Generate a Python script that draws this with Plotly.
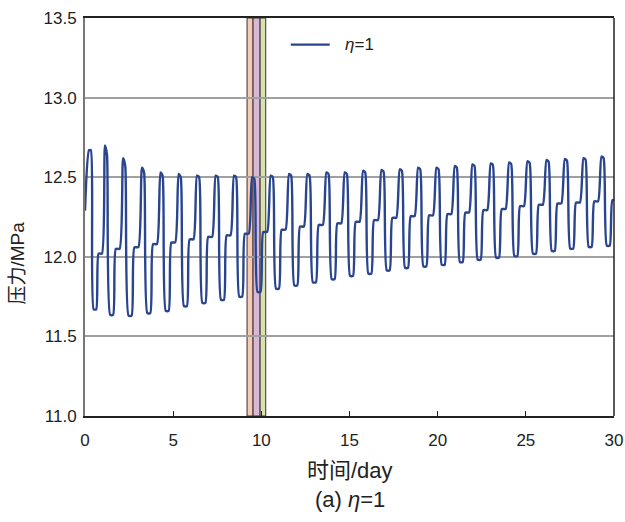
import plotly.graph_objects as go

# ---- data ----
start_day = 0.0
start_mpa = 12.29
peak_day = [0.23, 1.13, 2.16, 3.23, 4.28, 5.31, 6.35, 7.41, 8.45, 9.48,
            10.53, 11.57, 12.61, 13.69, 14.73, 15.77, 16.81, 17.85, 18.89, 19.93,
            20.97, 21.97, 23.01, 24.05, 25.09, 26.17, 27.21, 28.27, 29.29]
peak_mpa = [12.67, 12.70, 12.62, 12.56, 12.53, 12.52, 12.51, 12.51, 12.51, 12.50,
            12.51, 12.52, 12.52, 12.53, 12.53, 12.54, 12.545, 12.55, 12.56, 12.56,
            12.57, 12.58, 12.587, 12.593, 12.60, 12.608, 12.614, 12.62, 12.63]
peak_end_mpa = [12.67, 12.64, 12.57, 12.53, 12.51, 12.50, 12.50, 12.50, 12.50, 12.49,
                12.50, 12.51, 12.51, 12.52, 12.52, 12.53, 12.535, 12.54, 12.55, 12.55,
                12.56, 12.57, 12.577, 12.583, 12.59, 12.598, 12.604, 12.61, 12.62]
trough_mpa = [11.67, 11.635, 11.63, 11.646, 11.66, 11.69, 11.71, 11.73, 11.75, 11.78,
              11.80, 11.82, 11.84, 11.86, 11.88, 11.894, 11.915, 11.93, 11.94, 11.95,
              11.967, 11.982, 11.995, 12.005, 12.02, 12.037, 12.052, 12.062, 12.07]
shelf_mpa = [12.02, 12.05, 12.06, 12.08, 12.09, 12.11, 12.125, 12.135, 12.145, 12.156,
             12.17, 12.19, 12.20, 12.21, 12.22, 12.23, 12.245, 12.255, 12.26, 12.268,
             12.278, 12.293, 12.30, 12.318, 12.327, 12.335, 12.341, 12.348, 12.356]
# position of each key point inside one cycle (fraction of the cycle)
cycle_phase = [0.0, 0.115, 0.29, 0.45, 0.60, 0.81]
last_cycle_days = 1.04

band_edges = [9.19, 9.53, 9.93, 10.25]
band_colors = ["#F8CBB6", "#D7B8D7", "#D8E2AE"]

x_ticks = [0, 5, 10, 15, 20, 25, 30]
y_ticks = [11.0, 11.5, 12.0, 12.5, 13.0, 13.5]

# ---- build the polyline from the read values ----
t = [start_day]
p = [start_mpa]
for k in range(len(peak_day)):
    span = (peak_day[k + 1] - peak_day[k]) if k + 1 < len(peak_day) else last_cycle_days
    vals = [peak_mpa[k], peak_end_mpa[k], trough_mpa[k], trough_mpa[k], shelf_mpa[k], shelf_mpa[k]]
    for ph, v in zip(cycle_phase, vals):
        t.append(peak_day[k] + ph * span)
        p.append(v)

FONT = "Liberation Sans, Arial, Noto Sans CJK SC, sans-serif"
line_color = "#2A4590"

fig = go.Figure()
fig.add_trace(go.Scatter(
    x=t, y=p, mode="lines",
    line=dict(color=line_color, width=2.4, shape="spline", smoothing=0.6),
    name="<i>η</i>=1", showlegend=False,
))

for i in range(len(band_colors)):
    fig.add_shape(type="rect", xref="x", yref="paper",
                  x0=band_edges[i], x1=band_edges[i + 1], y0=0, y1=1,
                  fillcolor=band_colors[i], line=dict(color="#3a3030", width=1),
                  layer="below")

# right border
fig.add_shape(type="line", xref="paper", yref="paper", x0=1, x1=1, y0=0, y1=1,
              line=dict(color="#222222", width=1.5))

# legend (line sample + label)
fig.add_shape(type="line", xref="paper", yref="paper", x0=0.389, x1=0.4626,
              y0=0.933, y1=0.933, line=dict(color=line_color, width=2.3))

fig.update_layout(
    width=625, height=522,
    margin=dict(l=85, r=11, t=18, b=106, autoexpand=False),
    plot_bgcolor="white", paper_bgcolor="white",
    font=dict(family=FONT, size=17, color="#222222"),
    showlegend=False,
    xaxis=dict(range=[0, 30], tickvals=x_ticks, ticktext=[str(v) for v in x_ticks],
               ticks="inside", ticklen=5, tickcolor="#222222",
               showline=True, linecolor="#222222", linewidth=1.5, mirror=True,
               showgrid=False, zeroline=False, tickfont=dict(size=17),
               automargin=False, ticklabelstandoff=8),
    yaxis=dict(range=[11.0, 13.5], tickvals=y_ticks, ticktext=[f"{v:.1f}" for v in y_ticks],
               ticks="", showline=True, linecolor="#777777", linewidth=2,
               showgrid=True, gridcolor="#A0A0A0", gridwidth=2,
               zeroline=False, tickfont=dict(size=17),
               automargin=False, ticklabelstandoff=3),
    annotations=[
        dict(text="<i>η</i>=1", xref="paper", yref="paper", x=0.487, y=0.933,
             xanchor="left", yanchor="middle", showarrow=False, font=dict(size=17)),
        dict(text="时间/day", xref="paper", yref="paper", x=0.5, y=-0.136,
             xanchor="center", yanchor="middle", showarrow=False, font=dict(size=22)),
        dict(text="(a) <i>η</i>=1", xref="paper", yref="paper", x=0.5, y=-0.211,
             xanchor="center", yanchor="middle", showarrow=False, font=dict(size=22)),
        dict(text="压力/MPa", xref="paper", yref="paper", x=-0.127, y=0.385,
             xanchor="center", yanchor="middle", showarrow=False, textangle=-90,
             font=dict(size=19)),
    ],
)

fig.write_html("out.html", config={"displayModeBar": False},
               post_script="document.body.style.margin='0';document.body.style.overflow='hidden';")
